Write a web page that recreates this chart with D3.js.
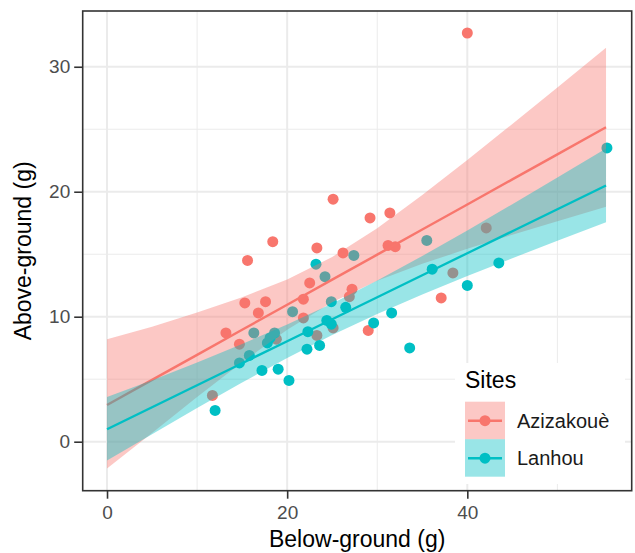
<!DOCTYPE html>
<html>
<head>
<meta charset="utf-8">
<script src="https://cdn.jsdelivr.net/npm/d3@7"></script>
<style>
  body { margin: 0; background: #fff; }
  text { font-family: Arial, "Liberation Sans", sans-serif; }
</style>
</head>
<body>
<svg id="chart" width="635" height="553"></svg>
<script>
// points
const sites = ["Azizakouè", "Lanhou"];
const azBelow = [40.0, 25.1, 18.4, 15.6, 23.3, 29.2, 31.4, 31.2, 32.0, 26.2, 22.5, 21.8, 21.8, 15.3,
  17.6, 16.8, 13.2, 14.7, 11.7, 27.2, 26.9, 37.1, 29.0, 25.1, 23.3, 38.4, 42.1, 18.8];
const azAbove = [32.7, 19.4, 16.0, 14.5, 15.5, 17.9, 18.3, 15.7, 15.6, 15.1, 12.7, 11.4, 9.9, 11.1,
  11.2, 10.3, 8.7, 7.8, 3.7, 12.2, 11.6, 11.5, 8.9, 9.1, 8.5, 13.5, 17.1, 8.2];
const laBelow = [55.5, 43.5, 40.0, 36.1, 35.5, 33.6, 31.6, 29.6, 27.4, 26.5, 24.9, 24.4, 24.9, 24.2,
  23.2, 23.6, 22.3, 22.2, 20.6, 20.2, 19.0, 17.2, 18.6, 18.1, 17.8, 16.3, 15.8, 14.7, 12.0];
const laAbove = [23.5, 14.3, 12.5, 13.8, 16.1, 7.5, 10.3, 9.5, 14.9, 10.75, 11.2, 9.7, 9.4, 13.2,
  14.2, 7.7, 8.8, 7.4, 10.4, 4.9, 5.8, 5.7, 8.7, 8.3, 7.9, 8.7, 6.9, 6.3, 2.5];

// lm smooth lines and confidence bands, read at these x values
const fitX = [0, 5, 10, 15, 20, 25, 30, 35, 40, 45, 50, 55.4];
const azFit = [2.94, 4.95, 6.95, 8.96, 10.96, 12.97, 14.97, 16.98, 18.98, 20.99, 22.99, 25.16];
const azLow = [-2.15, 0.70, 3.57, 6.36, 8.95, 11.16, 12.87, 14.23, 15.43, 16.56, 17.64, 18.80];
const azHigh = [8.19, 9.20, 10.33, 11.56, 12.97, 14.78, 17.07, 19.73, 22.53, 25.42, 28.34, 31.52];
const laFit = [1.0, 2.76, 4.52, 6.28, 8.04, 9.80, 11.56, 13.32, 15.08, 16.84, 18.60, 20.50];
const laLow = [-1.5, 0.60, 2.70, 4.74, 6.70, 8.54, 10.22, 11.78, 13.26, 14.68, 16.07, 17.55];
const laHigh = [3.58, 4.92, 6.34, 7.82, 9.38, 11.06, 12.90, 14.86, 16.90, 19.00, 21.13, 23.45];

const xTicks = [0, 20, 40];
const yTicks = [0, 10, 20, 30];
const xMinor = [10, 30, 50];
const yMinor = [5, 15, 25];

const colors = ["#F8766D", "#00BFC4"];

const panel = { left: 82.7, top: 11, right: 631.7, bottom: 490.7 };

const x = d3.scaleLinear().domain([-2.7, 58.25]).range([panel.left, panel.right]);
const y = d3.scaleLinear().domain([-3.92, 34.46]).range([panel.bottom, panel.top]);

const svg = d3.select("#chart");

// grid
const grid = svg.append("g");
grid.selectAll(".xmin").data(xMinor).enter().append("line")
  .attr("x1", d => x(d)).attr("x2", d => x(d))
  .attr("y1", panel.top).attr("y2", panel.bottom)
  .attr("stroke", "#EBEBEB").attr("stroke-width", 1);
grid.selectAll(".ymin").data(yMinor).enter().append("line")
  .attr("y1", d => y(d)).attr("y2", d => y(d))
  .attr("x1", panel.left).attr("x2", panel.right)
  .attr("stroke", "#EBEBEB").attr("stroke-width", 1);
grid.selectAll(".xmaj").data(xTicks).enter().append("line")
  .attr("x1", d => x(d)).attr("x2", d => x(d))
  .attr("y1", panel.top).attr("y2", panel.bottom)
  .attr("stroke", "#EBEBEB").attr("stroke-width", 2);
grid.selectAll(".ymaj").data(yTicks).enter().append("line")
  .attr("y1", d => y(d)).attr("y2", d => y(d))
  .attr("x1", panel.left).attr("x2", panel.right)
  .attr("stroke", "#EBEBEB").attr("stroke-width", 2);

// points first, smooth layer on top (as ggplot does)
const seriesPts = [
  azBelow.map((d, i) => [d, azAbove[i]]),
  laBelow.map((d, i) => [d, laAbove[i]])
];
seriesPts.forEach((pts, s) => {
  svg.append("g").selectAll("circle").data(pts).enter().append("circle")
    .attr("cx", d => x(d[0]))
    .attr("cy", d => y(d[1]))
    .attr("r", 5.5)
    .attr("fill", colors[s]);
});

const bands = [[azLow, azHigh, azFit], [laLow, laHigh, laFit]];
const area = d3.area()
  .x(d => x(d.x)).y0(d => y(d.lo)).y1(d => y(d.hi));
const line = d3.line().x(d => x(d.x)).y(d => y(d.fit));

bands.forEach(([lo, hi, fit], s) => {
  const rows = fitX.map((v, i) => ({ x: v, lo: lo[i], hi: hi[i], fit: fit[i] }));
  svg.append("path").datum(rows)
    .attr("d", area)
    .attr("fill", colors[s]).attr("fill-opacity", 0.4);
  svg.append("path").datum(rows)
    .attr("d", line)
    .attr("fill", "none")
    .attr("stroke", colors[s]).attr("stroke-width", 2.4);
});

// legend inside the panel
const leg = svg.append("g");
leg.append("rect")
  .attr("x", 455).attr("y", 363).attr("width", 170).attr("height", 121)
  .attr("fill", "#fff");
leg.append("text")
  .attr("x", 465).attr("y", 388)
  .attr("font-size", 23).attr("fill", "#000")
  .text("Sites");
sites.forEach((name, i) => {
  const ky = 401.7 + i * 37.5;
  leg.append("rect")
    .attr("x", 465).attr("y", ky).attr("width", 40).attr("height", 37.5)
    .attr("fill", colors[i]).attr("fill-opacity", 0.4);
  leg.append("line")
    .attr("x1", 468).attr("x2", 502)
    .attr("y1", ky + 19).attr("y2", ky + 19)
    .attr("stroke", colors[i]).attr("stroke-width", 2.4);
  leg.append("circle")
    .attr("cx", 485).attr("cy", ky + 19).attr("r", 5.5)
    .attr("fill", colors[i]);
  leg.append("text")
    .attr("x", 517).attr("y", ky + 19)
    .attr("dy", "0.35em")
    .attr("font-size", 20).attr("fill", "#1A1A1A")
    .text(name);
});

// panel border
svg.append("rect")
  .attr("x", panel.left).attr("y", panel.top)
  .attr("width", panel.right - panel.left).attr("height", panel.bottom - panel.top)
  .attr("fill", "none").attr("stroke", "#333").attr("stroke-width", 1.6);

// axes
const xAxis = svg.append("g")
  .attr("transform", `translate(0,${panel.bottom})`)
  .call(d3.axisBottom(x).tickValues(xTicks).tickSize(8).tickPadding(7));
const yAxis = svg.append("g")
  .attr("transform", `translate(${panel.left},0)`)
  .call(d3.axisLeft(y).tickValues(yTicks).tickSize(8.5).tickPadding(4));
[xAxis, yAxis].forEach(a => {
  a.select(".domain").remove();
  a.selectAll(".tick line").attr("stroke", "#333").attr("stroke-width", 1.6);
  a.selectAll(".tick text")
    .attr("font-size", 19).attr("fill", "#4D4D4D")
    .attr("font-family", "Arial, 'Liberation Sans', sans-serif");
});

svg.append("text")
  .attr("x", (panel.left + panel.right) / 2).attr("y", 547)
  .attr("text-anchor", "middle")
  .attr("font-size", 23).attr("fill", "#000")
  .text("Below-ground (g)");

svg.append("text")
  .attr("transform", `translate(31,${(panel.top + panel.bottom) / 2}) rotate(-90)`)
  .attr("text-anchor", "middle")
  .attr("font-size", 23).attr("fill", "#000")
  .text("Above-ground (g)");
</script>
</body>
</html>
